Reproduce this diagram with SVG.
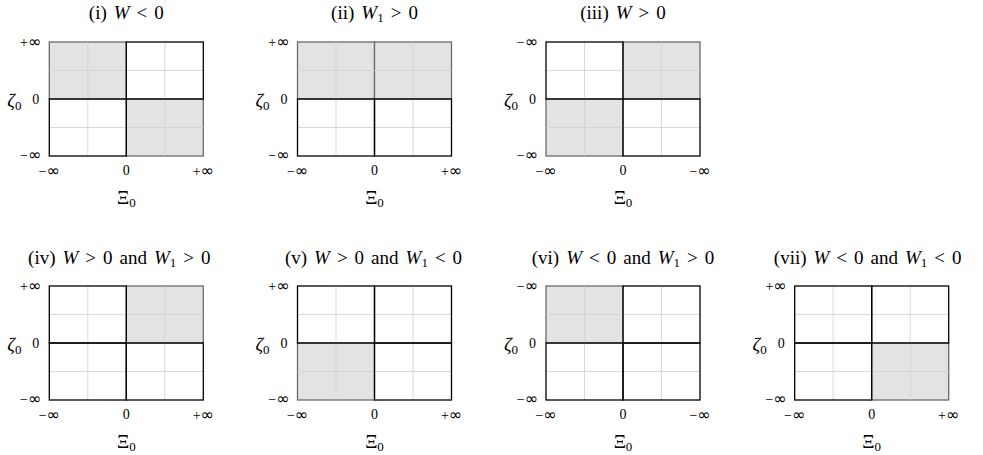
<svg xmlns="http://www.w3.org/2000/svg" xmlns:xlink="http://www.w3.org/1999/xlink" width="983" height="455" viewBox="0 0 983 455">
<style>
text{font-family:"Liberation Serif","Times New Roman",serif;fill:#000}
.t{font-size:19px;text-anchor:middle}
.it{font-style:italic}
.sb{font-size:13px}
.tk{font-size:14px}
.inf{font-family:"DejaVu Sans",sans-serif;font-size:16px}
.ty{text-anchor:end}
.tx{text-anchor:middle}
.ax{font-size:19px;text-anchor:middle}
.grid{stroke:#cfcfcf;stroke-width:0.8;fill:none}
.sh{fill:#e3e3e3;stroke:#6a6a6a;stroke-width:1.3}
.wq{fill:none;stroke:#000;stroke-width:1.3}
</style>
<defs>
<g id="grid">
<path class="grid" d="M38.5,0V114M115.5,0V114M0,28.5H154M0,85.5H154"/>
</g>
</defs>

<g id="panel-i" transform="translate(49.3,42)">
<text class="t" x="77" y="-23">(i)<tspan class="it" dx="7">W</tspan><tspan dx="7">&lt;</tspan><tspan dx="7">0</tspan></text>
<rect class="sh" x="0" y="0" width="77" height="57"/>
<rect class="sh" x="77" y="57" width="77" height="57"/>
<use xlink:href="#grid"/>
<rect class="wq" x="77" y="0" width="77" height="57"/>
<rect class="wq" x="0" y="57" width="77" height="57"/>
<text class="tk ty" x="-8" y="5">+<tspan class="inf">∞</tspan></text>
<text class="tk ty" x="-10" y="62">0</text>
<text class="tk ty" x="-8" y="118">−<tspan class="inf">∞</tspan></text>
<text class="tk tx" x="0" y="134">−<tspan class="inf">∞</tspan></text>
<text class="tk tx" x="77" y="133">0</text>
<text class="tk tx" x="154" y="134">+<tspan class="inf">∞</tspan></text>
<text class="ax" x="-35" y="65"><tspan class="it">ζ</tspan><tspan class="sb" dy="3">0</tspan></text>
<text class="ax" x="77" y="162">Ξ<tspan class="sb" dy="3">0</tspan></text>
</g>

<g id="panel-ii" transform="translate(297.5,42)">
<text class="t" x="77" y="-23">(ii)<tspan class="it" dx="7">W</tspan><tspan class="sb" dy="3">1</tspan><tspan dy="-3" dx="7">&gt;</tspan><tspan dx="7">0</tspan></text>
<rect class="sh" x="0" y="0" width="77" height="57"/>
<rect class="sh" x="77" y="0" width="77" height="57"/>
<use xlink:href="#grid"/>
<rect class="wq" x="0" y="57" width="77" height="57"/>
<rect class="wq" x="77" y="57" width="77" height="57"/>
<text class="tk ty" x="-8" y="5">+<tspan class="inf">∞</tspan></text>
<text class="tk ty" x="-10" y="62">0</text>
<text class="tk ty" x="-8" y="118">−<tspan class="inf">∞</tspan></text>
<text class="tk tx" x="0" y="134">−<tspan class="inf">∞</tspan></text>
<text class="tk tx" x="77" y="133">0</text>
<text class="tk tx" x="154" y="134">+<tspan class="inf">∞</tspan></text>
<text class="ax" x="-35" y="65"><tspan class="it">ζ</tspan><tspan class="sb" dy="3">0</tspan></text>
<text class="ax" x="77" y="162">Ξ<tspan class="sb" dy="3">0</tspan></text>
</g>

<g id="panel-iii" transform="translate(546,42)">
<text class="t" x="77" y="-23">(iii)<tspan class="it" dx="7">W</tspan><tspan dx="7">&gt;</tspan><tspan dx="7">0</tspan></text>
<rect class="sh" x="77" y="0" width="77" height="57"/>
<rect class="sh" x="0" y="57" width="77" height="57"/>
<use xlink:href="#grid"/>
<rect class="wq" x="0" y="0" width="77" height="57"/>
<rect class="wq" x="77" y="57" width="77" height="57"/>
<text class="tk ty" x="-8" y="5">−<tspan class="inf">∞</tspan></text>
<text class="tk ty" x="-10" y="62">0</text>
<text class="tk ty" x="-8" y="118">−<tspan class="inf">∞</tspan></text>
<text class="tk tx" x="0" y="134">−<tspan class="inf">∞</tspan></text>
<text class="tk tx" x="77" y="133">0</text>
<text class="tk tx" x="154" y="134">−<tspan class="inf">∞</tspan></text>
<text class="ax" x="-35" y="65"><tspan class="it">ζ</tspan><tspan class="sb" dy="3">0</tspan></text>
<text class="ax" x="77" y="162">Ξ<tspan class="sb" dy="3">0</tspan></text>
</g>

<g id="panel-iv" transform="translate(49.3,286)">
<text class="t" x="70" y="-22">(iv)<tspan class="it" dx="7">W</tspan><tspan dx="7">&gt;</tspan><tspan dx="7">0</tspan><tspan dx="7">and</tspan><tspan class="it" dx="7">W</tspan><tspan class="sb" dy="3">1</tspan><tspan dy="-3" dx="7">&gt;</tspan><tspan dx="7">0</tspan></text>
<rect class="sh" x="77" y="0" width="77" height="57"/>
<use xlink:href="#grid"/>
<rect class="wq" x="0" y="0" width="77" height="57"/>
<rect class="wq" x="0" y="57" width="77" height="57"/>
<rect class="wq" x="77" y="57" width="77" height="57"/>
<text class="tk ty" x="-8" y="5">+<tspan class="inf">∞</tspan></text>
<text class="tk ty" x="-10" y="62">0</text>
<text class="tk ty" x="-8" y="118">−<tspan class="inf">∞</tspan></text>
<text class="tk tx" x="0" y="134">−<tspan class="inf">∞</tspan></text>
<text class="tk tx" x="77" y="133">0</text>
<text class="tk tx" x="154" y="134">+<tspan class="inf">∞</tspan></text>
<text class="ax" x="-35" y="65"><tspan class="it">ζ</tspan><tspan class="sb" dy="3">0</tspan></text>
<text class="ax" x="77" y="162">Ξ<tspan class="sb" dy="3">0</tspan></text>
</g>

<g id="panel-v" transform="translate(297.5,286)">
<text class="t" x="76" y="-22">(v)<tspan class="it" dx="7">W</tspan><tspan dx="7">&gt;</tspan><tspan dx="7">0</tspan><tspan dx="7">and</tspan><tspan class="it" dx="7">W</tspan><tspan class="sb" dy="3">1</tspan><tspan dy="-3" dx="7">&lt;</tspan><tspan dx="7">0</tspan></text>
<rect class="sh" x="0" y="57" width="77" height="57"/>
<use xlink:href="#grid"/>
<rect class="wq" x="0" y="0" width="77" height="57"/>
<rect class="wq" x="77" y="0" width="77" height="57"/>
<rect class="wq" x="77" y="57" width="77" height="57"/>
<text class="tk ty" x="-8" y="5">+<tspan class="inf">∞</tspan></text>
<text class="tk ty" x="-10" y="62">0</text>
<text class="tk ty" x="-8" y="118">−<tspan class="inf">∞</tspan></text>
<text class="tk tx" x="0" y="134">−<tspan class="inf">∞</tspan></text>
<text class="tk tx" x="77" y="133">0</text>
<text class="tk tx" x="154" y="134">+<tspan class="inf">∞</tspan></text>
<text class="ax" x="-35" y="65"><tspan class="it">ζ</tspan><tspan class="sb" dy="3">0</tspan></text>
<text class="ax" x="77" y="162">Ξ<tspan class="sb" dy="3">0</tspan></text>
</g>

<g id="panel-vi" transform="translate(546,286)">
<text class="t" x="77" y="-22">(vi)<tspan class="it" dx="7">W</tspan><tspan dx="7">&lt;</tspan><tspan dx="7">0</tspan><tspan dx="7">and</tspan><tspan class="it" dx="7">W</tspan><tspan class="sb" dy="3">1</tspan><tspan dy="-3" dx="7">&gt;</tspan><tspan dx="7">0</tspan></text>
<rect class="sh" x="0" y="0" width="77" height="57"/>
<use xlink:href="#grid"/>
<rect class="wq" x="77" y="0" width="77" height="57"/>
<rect class="wq" x="0" y="57" width="77" height="57"/>
<rect class="wq" x="77" y="57" width="77" height="57"/>
<text class="tk ty" x="-8" y="5">−<tspan class="inf">∞</tspan></text>
<text class="tk ty" x="-10" y="62">0</text>
<text class="tk ty" x="-8" y="118">−<tspan class="inf">∞</tspan></text>
<text class="tk tx" x="0" y="134">−<tspan class="inf">∞</tspan></text>
<text class="tk tx" x="77" y="133">0</text>
<text class="tk tx" x="154" y="134">−<tspan class="inf">∞</tspan></text>
<text class="ax" x="-35" y="65"><tspan class="it">ζ</tspan><tspan class="sb" dy="3">0</tspan></text>
<text class="ax" x="77" y="162">Ξ<tspan class="sb" dy="3">0</tspan></text>
</g>

<g id="panel-vii" transform="translate(794.7,286)">
<text class="t" x="73" y="-22">(vii)<tspan class="it" dx="7">W</tspan><tspan dx="7">&lt;</tspan><tspan dx="7">0</tspan><tspan dx="7">and</tspan><tspan class="it" dx="7">W</tspan><tspan class="sb" dy="3">1</tspan><tspan dy="-3" dx="7">&lt;</tspan><tspan dx="7">0</tspan></text>
<rect class="sh" x="77" y="57" width="77" height="57"/>
<use xlink:href="#grid"/>
<rect class="wq" x="0" y="0" width="77" height="57"/>
<rect class="wq" x="77" y="0" width="77" height="57"/>
<rect class="wq" x="0" y="57" width="77" height="57"/>
<text class="tk ty" x="-8" y="5">+<tspan class="inf">∞</tspan></text>
<text class="tk ty" x="-10" y="62">0</text>
<text class="tk ty" x="-8" y="118">−<tspan class="inf">∞</tspan></text>
<text class="tk tx" x="0" y="134">−<tspan class="inf">∞</tspan></text>
<text class="tk tx" x="77" y="133">0</text>
<text class="tk tx" x="154" y="134">+<tspan class="inf">∞</tspan></text>
<text class="ax" x="-35" y="65"><tspan class="it">ζ</tspan><tspan class="sb" dy="3">0</tspan></text>
<text class="ax" x="77" y="162">Ξ<tspan class="sb" dy="3">0</tspan></text>
</g>

<g id="connectors"></g>
</svg>
